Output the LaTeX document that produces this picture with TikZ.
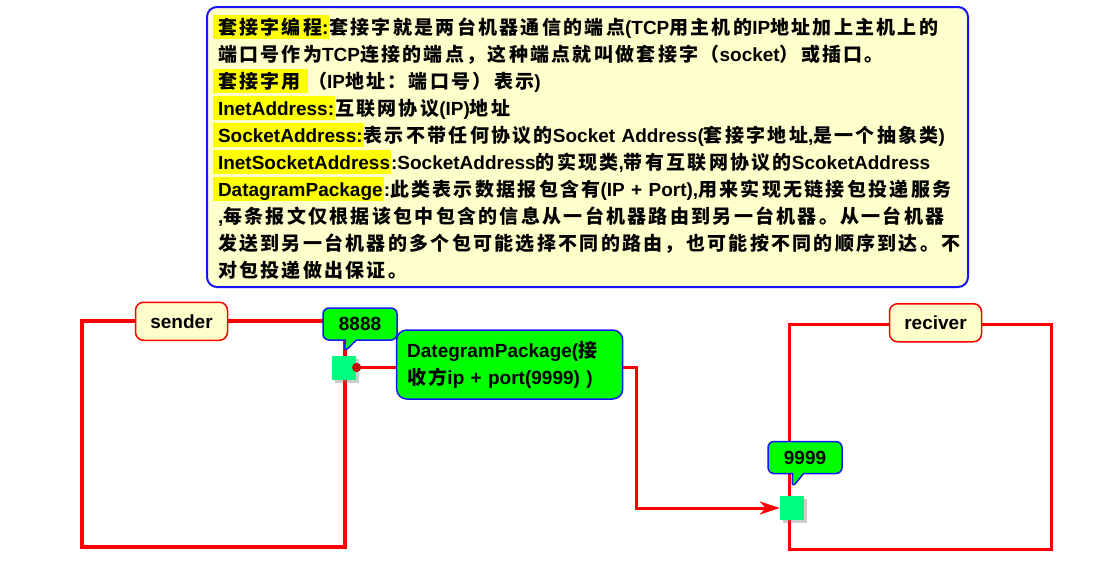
\documentclass[tikz,border=0pt]{standalone}
\usepackage{fontspec}
\setmainfont{Liberation Sans}
\newfontfamily\zhfont{Noto Sans CJK SC}[LetterSpace=12]
\usetikzlibrary{positioning,shapes.callouts,shadows,arrows.meta}

% chinese characters switch to the CJK font by themselves
\newcount\zhcnt
\newXeTeXintercharclass\zhclass
\def\setzhrange#1#2{\zhcnt=#1 \loop\XeTeXcharclass\zhcnt=\zhclass \advance\zhcnt by 1 \ifnum\zhcnt<#2 \repeat}
\setzhrange{"3000}{"3040}
\setzhrange{"4E00}{"A000}
\setzhrange{"FF00}{"FFF0}
\XeTeXinterchartokenstate=1
\XeTeXinterchartoks 0 \zhclass = {\begingroup\zhfont}
\XeTeXinterchartoks 4095 \zhclass = {\begingroup\zhfont}
\XeTeXinterchartoks \zhclass 0 = {\endgroup}
\XeTeXinterchartoks \zhclass 4095 = {\endgroup}

\definecolor{notebg}{RGB}{255,255,204}
\definecolor{hlyellow}{RGB}{255,255,0}
\definecolor{portgreen}{RGB}{0,255,128}
\definecolor{msggreen}{RGB}{0,255,0}
\definecolor{msgblue}{RGB}{20,20,255}
\setlength{\fboxsep}{1pt}
\newcommand\hilite[1]{\leavevmode\kern-5pt\colorbox{hlyellow}{\kern4pt\rule[-4pt]{0pt}{22pt}#1}}

\begin{document}
\begin{tikzpicture}[x=1pt,y=-1pt,
  every node/.style={font=\fontsize{19}{27}\selectfont\bfseries},
  note/.style={draw=msgblue, line width=2pt, fill=notebg, rounded corners=10pt,
    text width=739pt, inner xsep=11pt, minimum height=280pt, align=left},
  frame/.style={draw=red, line width=3.5pt},
  tag/.style={draw=red, line width=1.5pt, fill=notebg, rounded corners=8pt,
    minimum width=92pt, minimum height=38pt},
  port/.style={fill=portgreen, minimum size=24pt, inner sep=0pt,
    drop shadow={shadow xshift=3pt, shadow yshift=-3pt, opacity=0.4}},
  bubble/.style={rectangle callout, draw=msgblue, line width=1.5pt, fill=msggreen,
    rounded corners=6pt, minimum width=74pt, minimum height=32pt, callout pointer width=11pt},
  msg/.style={draw=msgblue, line width=1.5pt, fill=msggreen, rounded corners=10pt,
    text width=205pt, inner xsep=10.5pt, minimum height=69pt, align=left},
  link/.style={draw=red, line width=3pt}
]
\useasboundingbox (0,0) rectangle (1099,565);

\node[note] (note) at (587.5,147) {%
\hilite{套接字编程:}套接字就是两台机器通信的端点(TCP用主机的IP地址加上主机上的\\
端口号作为TCP连接的端点，这种端点就叫做套接字（socket）或插口。\\
\hilite{套接字用 }（IP地址：端口号）表示)\\
\hilite{InetAddress:}互联网协议(IP)地址\\
\hilite{SocketAddress:}表示不带任何协议的Socket Address(套接字地址,是一个抽象类)\\
\hilite{InetSocketAddress}:SocketAddress的实现类,带有互联网协议的ScoketAddress\\
\hilite{DatagramPackage}:此类表示数据报包含有(IP + Port),用来实现无链接包投递服务\\
,每条报文仅根据该包中包含的信息从一台机器路由到另一台机器。从一台机器\\
发送到另一台机器的多个包可能选择不同的路由，也可能按不同的顺序到达。不\\
对包投递做出保证。};

\node[frame, minimum width=263pt, minimum height=226pt] (sender) at (213.5,434) {};
\node[frame, minimum width=262pt, minimum height=225pt] (receiver) at (920.5,437) {};
\node[tag] (sendertag) at ([xshift=-32pt,yshift=-2pt]sender.north) {sender};
\node[tag] (receivertag) at ([xshift=15pt]receiver.north) {reciver};

\node[port] (p8888) at (344,367.5) {};
\node[port] (p9999) at (792,508) {};
\node[bubble, callout absolute pointer={([yshift=3pt]p8888.north)}] (b8888) at (360,324) {8888};
\node[bubble, callout absolute pointer={([yshift=8pt]p9999.north)}] (b9999) at (805,457.5) {9999};

\node[msg] (dgram) at (509.7,364.5) {DategramPackage(接\\收方ip + port(9999) )};

\draw[link, {Circle[length=9pt,color=red!80!black,sep=-4pt]}-] (p8888.east) -- (p8888.east -| dgram.west);
\draw[link, -{Stealth[length=20pt,width=13pt,inset=6pt]}] (p8888.east -| dgram.east) -- ++(13,0) |- (p9999.west);
\end{tikzpicture}
\end{document}
